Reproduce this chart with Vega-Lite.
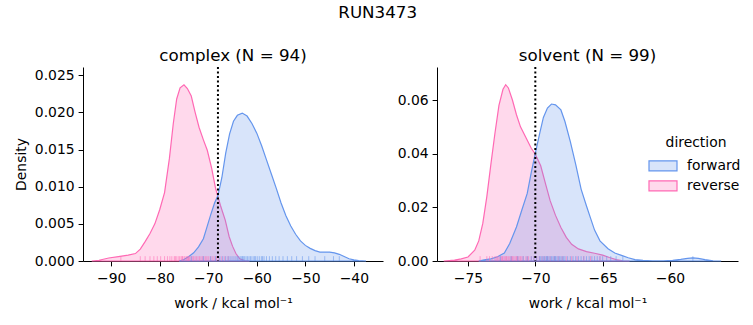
{
  "$schema": "https://vega.github.io/schema/vega-lite/v6.json",
  "padding": {"left": 14, "top": 4, "right": 5, "bottom": 5},
  "title": {"text": "RUN3473", "anchor": "middle", "offset": 27},
  "datasets": {
    "curves": [
      {"panel": "complex", "direction": "reverse", "work": -94.0, "density": 0},
      {"panel": "complex", "direction": "reverse", "work": -92.5, "density": 0.0001},
      {"panel": "complex", "direction": "reverse", "work": -90.5, "density": 0.0004},
      {"panel": "complex", "direction": "reverse", "work": -88.5, "density": 0.0006},
      {"panel": "complex", "direction": "reverse", "work": -86.5, "density": 0.0008},
      {"panel": "complex", "direction": "reverse", "work": -85.0, "density": 0.0010},
      {"panel": "complex", "direction": "reverse", "work": -84.0, "density": 0.0016},
      {"panel": "complex", "direction": "reverse", "work": -83.0, "density": 0.0026},
      {"panel": "complex", "direction": "reverse", "work": -82.0, "density": 0.0037},
      {"panel": "complex", "direction": "reverse", "work": -81.0, "density": 0.0050},
      {"panel": "complex", "direction": "reverse", "work": -80.0, "density": 0.0069},
      {"panel": "complex", "direction": "reverse", "work": -79.0, "density": 0.0092},
      {"panel": "complex", "direction": "reverse", "work": -78.0, "density": 0.0138},
      {"panel": "complex", "direction": "reverse", "work": -77.2, "density": 0.0185},
      {"panel": "complex", "direction": "reverse", "work": -76.5, "density": 0.0218},
      {"panel": "complex", "direction": "reverse", "work": -75.8, "density": 0.0233},
      {"panel": "complex", "direction": "reverse", "work": -75.0, "density": 0.0237},
      {"panel": "complex", "direction": "reverse", "work": -74.3, "density": 0.0232},
      {"panel": "complex", "direction": "reverse", "work": -73.5, "density": 0.0222},
      {"panel": "complex", "direction": "reverse", "work": -72.7, "density": 0.0200},
      {"panel": "complex", "direction": "reverse", "work": -71.9, "density": 0.0180},
      {"panel": "complex", "direction": "reverse", "work": -71.0, "density": 0.0163},
      {"panel": "complex", "direction": "reverse", "work": -70.2, "density": 0.0149},
      {"panel": "complex", "direction": "reverse", "work": -69.3, "density": 0.0125},
      {"panel": "complex", "direction": "reverse", "work": -68.5, "density": 0.0098},
      {"panel": "complex", "direction": "reverse", "work": -67.5, "density": 0.0075},
      {"panel": "complex", "direction": "reverse", "work": -66.5, "density": 0.0055},
      {"panel": "complex", "direction": "reverse", "work": -65.7, "density": 0.0033},
      {"panel": "complex", "direction": "reverse", "work": -65.0, "density": 0.0020},
      {"panel": "complex", "direction": "reverse", "work": -64.3, "density": 0.0010},
      {"panel": "complex", "direction": "reverse", "work": -63.5, "density": 0.0003},
      {"panel": "complex", "direction": "reverse", "work": -62.5, "density": 0.00005},
      {"panel": "complex", "direction": "reverse", "work": -61.5, "density": 0},
      {"panel": "complex", "direction": "forward", "work": -76.0, "density": 0},
      {"panel": "complex", "direction": "forward", "work": -75.0, "density": 0.0002},
      {"panel": "complex", "direction": "forward", "work": -74.0, "density": 0.0006},
      {"panel": "complex", "direction": "forward", "work": -73.0, "density": 0.0011},
      {"panel": "complex", "direction": "forward", "work": -72.0, "density": 0.0019},
      {"panel": "complex", "direction": "forward", "work": -71.0, "density": 0.0030},
      {"panel": "complex", "direction": "forward", "work": -70.3, "density": 0.0045},
      {"panel": "complex", "direction": "forward", "work": -69.5, "density": 0.0062},
      {"panel": "complex", "direction": "forward", "work": -68.7, "density": 0.0078},
      {"panel": "complex", "direction": "forward", "work": -68.0, "density": 0.0088},
      {"panel": "complex", "direction": "forward", "work": -67.2, "density": 0.0112},
      {"panel": "complex", "direction": "forward", "work": -66.4, "density": 0.0145},
      {"panel": "complex", "direction": "forward", "work": -65.6, "density": 0.0171},
      {"panel": "complex", "direction": "forward", "work": -64.8, "density": 0.0188},
      {"panel": "complex", "direction": "forward", "work": -64.0, "density": 0.0196},
      {"panel": "complex", "direction": "forward", "work": -63.0, "density": 0.0199},
      {"panel": "complex", "direction": "forward", "work": -62.0, "density": 0.0195},
      {"panel": "complex", "direction": "forward", "work": -61.0, "density": 0.0185},
      {"panel": "complex", "direction": "forward", "work": -60.0, "density": 0.0172},
      {"panel": "complex", "direction": "forward", "work": -59.0, "density": 0.0155},
      {"panel": "complex", "direction": "forward", "work": -58.0, "density": 0.0136},
      {"panel": "complex", "direction": "forward", "work": -57.0, "density": 0.0117},
      {"panel": "complex", "direction": "forward", "work": -56.0, "density": 0.0098},
      {"panel": "complex", "direction": "forward", "work": -55.0, "density": 0.0078},
      {"panel": "complex", "direction": "forward", "work": -54.0, "density": 0.0061},
      {"panel": "complex", "direction": "forward", "work": -53.0, "density": 0.0047},
      {"panel": "complex", "direction": "forward", "work": -52.0, "density": 0.0036},
      {"panel": "complex", "direction": "forward", "work": -51.0, "density": 0.0027},
      {"panel": "complex", "direction": "forward", "work": -50.0, "density": 0.0021},
      {"panel": "complex", "direction": "forward", "work": -49.0, "density": 0.0017},
      {"panel": "complex", "direction": "forward", "work": -48.0, "density": 0.0014},
      {"panel": "complex", "direction": "forward", "work": -47.0, "density": 0.0012},
      {"panel": "complex", "direction": "forward", "work": -46.0, "density": 0.0012},
      {"panel": "complex", "direction": "forward", "work": -45.0, "density": 0.0012},
      {"panel": "complex", "direction": "forward", "work": -44.0, "density": 0.0011},
      {"panel": "complex", "direction": "forward", "work": -43.0, "density": 0.0009},
      {"panel": "complex", "direction": "forward", "work": -42.0, "density": 0.0006},
      {"panel": "complex", "direction": "forward", "work": -41.0, "density": 0.0003},
      {"panel": "complex", "direction": "forward", "work": -40.0, "density": 0.00015},
      {"panel": "complex", "direction": "forward", "work": -39.0, "density": 0.00005},
      {"panel": "complex", "direction": "forward", "work": -37.5, "density": 0},
      {"panel": "solvent", "direction": "reverse", "work": -76.8, "density": 0},
      {"panel": "solvent", "direction": "reverse", "work": -76.0, "density": 0.0003},
      {"panel": "solvent", "direction": "reverse", "work": -75.5, "density": 0.0008},
      {"panel": "solvent", "direction": "reverse", "work": -75.0, "density": 0.0015},
      {"panel": "solvent", "direction": "reverse", "work": -74.5, "density": 0.0040},
      {"panel": "solvent", "direction": "reverse", "work": -74.2, "density": 0.0075},
      {"panel": "solvent", "direction": "reverse", "work": -73.9, "density": 0.0140},
      {"panel": "solvent", "direction": "reverse", "work": -73.6, "density": 0.0240},
      {"panel": "solvent", "direction": "reverse", "work": -73.3, "density": 0.0360},
      {"panel": "solvent", "direction": "reverse", "work": -73.0, "density": 0.0475},
      {"panel": "solvent", "direction": "reverse", "work": -72.7, "density": 0.0580},
      {"panel": "solvent", "direction": "reverse", "work": -72.4, "density": 0.0640},
      {"panel": "solvent", "direction": "reverse", "work": -72.2, "density": 0.0657},
      {"panel": "solvent", "direction": "reverse", "work": -72.0, "density": 0.0645},
      {"panel": "solvent", "direction": "reverse", "work": -71.7, "density": 0.0600},
      {"panel": "solvent", "direction": "reverse", "work": -71.4, "density": 0.0545},
      {"panel": "solvent", "direction": "reverse", "work": -71.1, "density": 0.0500},
      {"panel": "solvent", "direction": "reverse", "work": -70.7, "density": 0.0460},
      {"panel": "solvent", "direction": "reverse", "work": -70.3, "density": 0.0420},
      {"panel": "solvent", "direction": "reverse", "work": -70.0, "density": 0.0398},
      {"panel": "solvent", "direction": "reverse", "work": -69.6, "density": 0.0355},
      {"panel": "solvent", "direction": "reverse", "work": -69.2, "density": 0.0280},
      {"panel": "solvent", "direction": "reverse", "work": -68.9, "density": 0.0225},
      {"panel": "solvent", "direction": "reverse", "work": -68.5, "density": 0.0170},
      {"panel": "solvent", "direction": "reverse", "work": -68.1, "density": 0.0125},
      {"panel": "solvent", "direction": "reverse", "work": -67.7, "density": 0.0088},
      {"panel": "solvent", "direction": "reverse", "work": -67.3, "density": 0.0062},
      {"panel": "solvent", "direction": "reverse", "work": -66.8, "density": 0.0045},
      {"panel": "solvent", "direction": "reverse", "work": -66.2, "density": 0.0035},
      {"panel": "solvent", "direction": "reverse", "work": -65.6, "density": 0.0029},
      {"panel": "solvent", "direction": "reverse", "work": -65.0, "density": 0.0022},
      {"panel": "solvent", "direction": "reverse", "work": -64.5, "density": 0.0013},
      {"panel": "solvent", "direction": "reverse", "work": -64.0, "density": 0.0005},
      {"panel": "solvent", "direction": "reverse", "work": -63.5, "density": 0.0001},
      {"panel": "solvent", "direction": "reverse", "work": -63.0, "density": 0},
      {"panel": "solvent", "direction": "forward", "work": -74.2, "density": 0},
      {"panel": "solvent", "direction": "forward", "work": -73.8, "density": 0.0004},
      {"panel": "solvent", "direction": "forward", "work": -73.3, "density": 0.0008},
      {"panel": "solvent", "direction": "forward", "work": -72.8, "density": 0.0016},
      {"panel": "solvent", "direction": "forward", "work": -72.3, "density": 0.0030},
      {"panel": "solvent", "direction": "forward", "work": -71.9, "density": 0.0065},
      {"panel": "solvent", "direction": "forward", "work": -71.4, "density": 0.0127},
      {"panel": "solvent", "direction": "forward", "work": -71.0, "density": 0.0190},
      {"panel": "solvent", "direction": "forward", "work": -70.6, "density": 0.0252},
      {"panel": "solvent", "direction": "forward", "work": -70.3, "density": 0.0330},
      {"panel": "solvent", "direction": "forward", "work": -70.0, "density": 0.0401},
      {"panel": "solvent", "direction": "forward", "work": -69.7, "density": 0.0470},
      {"panel": "solvent", "direction": "forward", "work": -69.4, "density": 0.0535},
      {"panel": "solvent", "direction": "forward", "work": -69.1, "density": 0.0570},
      {"panel": "solvent", "direction": "forward", "work": -68.8, "density": 0.0585},
      {"panel": "solvent", "direction": "forward", "work": -68.5, "density": 0.0582},
      {"panel": "solvent", "direction": "forward", "work": -68.1, "density": 0.0563},
      {"panel": "solvent", "direction": "forward", "work": -67.8, "density": 0.0520},
      {"panel": "solvent", "direction": "forward", "work": -67.4, "density": 0.0445},
      {"panel": "solvent", "direction": "forward", "work": -67.0, "density": 0.0360},
      {"panel": "solvent", "direction": "forward", "work": -66.6, "density": 0.0268},
      {"panel": "solvent", "direction": "forward", "work": -66.2, "density": 0.0205},
      {"panel": "solvent", "direction": "forward", "work": -65.9, "density": 0.0160},
      {"panel": "solvent", "direction": "forward", "work": -65.6, "density": 0.0115},
      {"panel": "solvent", "direction": "forward", "work": -65.2, "density": 0.0075},
      {"panel": "solvent", "direction": "forward", "work": -64.6, "density": 0.0046},
      {"panel": "solvent", "direction": "forward", "work": -64.1, "density": 0.0030},
      {"panel": "solvent", "direction": "forward", "work": -63.6, "density": 0.0021},
      {"panel": "solvent", "direction": "forward", "work": -63.1, "density": 0.0012},
      {"panel": "solvent", "direction": "forward", "work": -62.6, "density": 0.0005},
      {"panel": "solvent", "direction": "forward", "work": -62.0, "density": 0.0002},
      {"panel": "solvent", "direction": "forward", "work": -61.3, "density": 0.00005},
      {"panel": "solvent", "direction": "forward", "work": -60.5, "density": 0.00002},
      {"panel": "solvent", "direction": "forward", "work": -59.8, "density": 0.0002},
      {"panel": "solvent", "direction": "forward", "work": -59.2, "density": 0.0006},
      {"panel": "solvent", "direction": "forward", "work": -58.7, "density": 0.0010},
      {"panel": "solvent", "direction": "forward", "work": -58.3, "density": 0.0012},
      {"panel": "solvent", "direction": "forward", "work": -57.9, "density": 0.0010},
      {"panel": "solvent", "direction": "forward", "work": -57.4, "density": 0.0005},
      {"panel": "solvent", "direction": "forward", "work": -56.8, "density": 0.0001},
      {"panel": "solvent", "direction": "forward", "work": -56.2, "density": 0}
    ],
    "rug": [
      {"panel": "complex", "direction": "reverse", "work": -88.0},
      {"panel": "complex", "direction": "reverse", "work": -84.0},
      {"panel": "complex", "direction": "reverse", "work": -83.0},
      {"panel": "complex", "direction": "reverse", "work": -82.0},
      {"panel": "complex", "direction": "reverse", "work": -81.2},
      {"panel": "complex", "direction": "reverse", "work": -80.5},
      {"panel": "complex", "direction": "reverse", "work": -79.8},
      {"panel": "complex", "direction": "reverse", "work": -79.0},
      {"panel": "complex", "direction": "reverse", "work": -78.4},
      {"panel": "complex", "direction": "reverse", "work": -77.9},
      {"panel": "complex", "direction": "reverse", "work": -77.5},
      {"panel": "complex", "direction": "reverse", "work": -77.0},
      {"panel": "complex", "direction": "reverse", "work": -76.8},
      {"panel": "complex", "direction": "reverse", "work": -76.6},
      {"panel": "complex", "direction": "reverse", "work": -76.2},
      {"panel": "complex", "direction": "reverse", "work": -75.9},
      {"panel": "complex", "direction": "reverse", "work": -75.6},
      {"panel": "complex", "direction": "reverse", "work": -75.4},
      {"panel": "complex", "direction": "reverse", "work": -75.3},
      {"panel": "complex", "direction": "reverse", "work": -75.0},
      {"panel": "complex", "direction": "reverse", "work": -74.8},
      {"panel": "complex", "direction": "reverse", "work": -74.5},
      {"panel": "complex", "direction": "reverse", "work": -74.3},
      {"panel": "complex", "direction": "reverse", "work": -74.1},
      {"panel": "complex", "direction": "reverse", "work": -74.0},
      {"panel": "complex", "direction": "reverse", "work": -73.8},
      {"panel": "complex", "direction": "reverse", "work": -73.5},
      {"panel": "complex", "direction": "reverse", "work": -73.2},
      {"panel": "complex", "direction": "reverse", "work": -73.0},
      {"panel": "complex", "direction": "reverse", "work": -72.7},
      {"panel": "complex", "direction": "reverse", "work": -72.4},
      {"panel": "complex", "direction": "reverse", "work": -72.1},
      {"panel": "complex", "direction": "reverse", "work": -71.8},
      {"panel": "complex", "direction": "reverse", "work": -71.5},
      {"panel": "complex", "direction": "reverse", "work": -71.2},
      {"panel": "complex", "direction": "reverse", "work": -70.9},
      {"panel": "complex", "direction": "reverse", "work": -70.6},
      {"panel": "complex", "direction": "reverse", "work": -70.3},
      {"panel": "complex", "direction": "reverse", "work": -70.0},
      {"panel": "complex", "direction": "reverse", "work": -69.6},
      {"panel": "complex", "direction": "reverse", "work": -69.2},
      {"panel": "complex", "direction": "reverse", "work": -68.8},
      {"panel": "complex", "direction": "reverse", "work": -68.3},
      {"panel": "complex", "direction": "reverse", "work": -67.8},
      {"panel": "complex", "direction": "reverse", "work": -67.2},
      {"panel": "complex", "direction": "reverse", "work": -66.6},
      {"panel": "complex", "direction": "reverse", "work": -65.9},
      {"panel": "complex", "direction": "forward", "work": -73.5},
      {"panel": "complex", "direction": "forward", "work": -71.0},
      {"panel": "complex", "direction": "forward", "work": -69.5},
      {"panel": "complex", "direction": "forward", "work": -68.5},
      {"panel": "complex", "direction": "forward", "work": -67.6},
      {"panel": "complex", "direction": "forward", "work": -67.0},
      {"panel": "complex", "direction": "forward", "work": -66.4},
      {"panel": "complex", "direction": "forward", "work": -65.9},
      {"panel": "complex", "direction": "forward", "work": -65.5},
      {"panel": "complex", "direction": "forward", "work": -65.1},
      {"panel": "complex", "direction": "forward", "work": -64.7},
      {"panel": "complex", "direction": "forward", "work": -64.3},
      {"panel": "complex", "direction": "forward", "work": -64.0},
      {"panel": "complex", "direction": "forward", "work": -63.7},
      {"panel": "complex", "direction": "forward", "work": -63.4},
      {"panel": "complex", "direction": "forward", "work": -63.1},
      {"panel": "complex", "direction": "forward", "work": -62.9},
      {"panel": "complex", "direction": "forward", "work": -62.8},
      {"panel": "complex", "direction": "forward", "work": -62.5},
      {"panel": "complex", "direction": "forward", "work": -62.2},
      {"panel": "complex", "direction": "forward", "work": -61.9},
      {"panel": "complex", "direction": "forward", "work": -61.6},
      {"panel": "complex", "direction": "forward", "work": -61.3},
      {"panel": "complex", "direction": "forward", "work": -61.0},
      {"panel": "complex", "direction": "forward", "work": -60.6},
      {"panel": "complex", "direction": "forward", "work": -60.4},
      {"panel": "complex", "direction": "forward", "work": -60.2},
      {"panel": "complex", "direction": "forward", "work": -59.8},
      {"panel": "complex", "direction": "forward", "work": -59.4},
      {"panel": "complex", "direction": "forward", "work": -59.0},
      {"panel": "complex", "direction": "forward", "work": -58.8},
      {"panel": "complex", "direction": "forward", "work": -58.5},
      {"panel": "complex", "direction": "forward", "work": -58.0},
      {"panel": "complex", "direction": "forward", "work": -57.4},
      {"panel": "complex", "direction": "forward", "work": -56.8},
      {"panel": "complex", "direction": "forward", "work": -56.1},
      {"panel": "complex", "direction": "forward", "work": -55.4},
      {"panel": "complex", "direction": "forward", "work": -54.6},
      {"panel": "complex", "direction": "forward", "work": -53.7},
      {"panel": "complex", "direction": "forward", "work": -52.8},
      {"panel": "complex", "direction": "forward", "work": -51.8},
      {"panel": "complex", "direction": "forward", "work": -50.6},
      {"panel": "complex", "direction": "forward", "work": -49.3},
      {"panel": "complex", "direction": "forward", "work": -48.0},
      {"panel": "complex", "direction": "forward", "work": -46.0},
      {"panel": "complex", "direction": "forward", "work": -44.2},
      {"panel": "complex", "direction": "forward", "work": -43.0},
      {"panel": "solvent", "direction": "reverse", "work": -74.1},
      {"panel": "solvent", "direction": "reverse", "work": -73.6},
      {"panel": "solvent", "direction": "reverse", "work": -73.4},
      {"panel": "solvent", "direction": "reverse", "work": -73.2},
      {"panel": "solvent", "direction": "reverse", "work": -73.0},
      {"panel": "solvent", "direction": "reverse", "work": -72.9},
      {"panel": "solvent", "direction": "reverse", "work": -72.8},
      {"panel": "solvent", "direction": "reverse", "work": -72.7},
      {"panel": "solvent", "direction": "reverse", "work": -72.6},
      {"panel": "solvent", "direction": "reverse", "work": -72.5},
      {"panel": "solvent", "direction": "reverse", "work": -72.45},
      {"panel": "solvent", "direction": "reverse", "work": -72.4},
      {"panel": "solvent", "direction": "reverse", "work": -72.3},
      {"panel": "solvent", "direction": "reverse", "work": -72.2},
      {"panel": "solvent", "direction": "reverse", "work": -72.15},
      {"panel": "solvent", "direction": "reverse", "work": -72.1},
      {"panel": "solvent", "direction": "reverse", "work": -72.0},
      {"panel": "solvent", "direction": "reverse", "work": -71.9},
      {"panel": "solvent", "direction": "reverse", "work": -71.8},
      {"panel": "solvent", "direction": "reverse", "work": -71.75},
      {"panel": "solvent", "direction": "reverse", "work": -71.7},
      {"panel": "solvent", "direction": "reverse", "work": -71.6},
      {"panel": "solvent", "direction": "reverse", "work": -71.5},
      {"panel": "solvent", "direction": "reverse", "work": -71.4},
      {"panel": "solvent", "direction": "reverse", "work": -71.35},
      {"panel": "solvent", "direction": "reverse", "work": -71.3},
      {"panel": "solvent", "direction": "reverse", "work": -71.2},
      {"panel": "solvent", "direction": "reverse", "work": -71.1},
      {"panel": "solvent", "direction": "reverse", "work": -71.0},
      {"panel": "solvent", "direction": "reverse", "work": -70.9},
      {"panel": "solvent", "direction": "reverse", "work": -70.7},
      {"panel": "solvent", "direction": "reverse", "work": -70.6},
      {"panel": "solvent", "direction": "reverse", "work": -70.5},
      {"panel": "solvent", "direction": "reverse", "work": -70.3},
      {"panel": "solvent", "direction": "reverse", "work": -70.1},
      {"panel": "solvent", "direction": "reverse", "work": -69.9},
      {"panel": "solvent", "direction": "reverse", "work": -69.7},
      {"panel": "solvent", "direction": "reverse", "work": -69.5},
      {"panel": "solvent", "direction": "reverse", "work": -69.3},
      {"panel": "solvent", "direction": "reverse", "work": -69.1},
      {"panel": "solvent", "direction": "reverse", "work": -68.9},
      {"panel": "solvent", "direction": "reverse", "work": -68.6},
      {"panel": "solvent", "direction": "reverse", "work": -68.3},
      {"panel": "solvent", "direction": "reverse", "work": -68.0},
      {"panel": "solvent", "direction": "reverse", "work": -67.7},
      {"panel": "solvent", "direction": "reverse", "work": -67.3},
      {"panel": "solvent", "direction": "reverse", "work": -66.9},
      {"panel": "solvent", "direction": "reverse", "work": -66.4},
      {"panel": "solvent", "direction": "reverse", "work": -65.9},
      {"panel": "solvent", "direction": "reverse", "work": -65.2},
      {"panel": "solvent", "direction": "forward", "work": -72.6},
      {"panel": "solvent", "direction": "forward", "work": -71.8},
      {"panel": "solvent", "direction": "forward", "work": -71.3},
      {"panel": "solvent", "direction": "forward", "work": -70.9},
      {"panel": "solvent", "direction": "forward", "work": -70.6},
      {"panel": "solvent", "direction": "forward", "work": -70.3},
      {"panel": "solvent", "direction": "forward", "work": -70.1},
      {"panel": "solvent", "direction": "forward", "work": -69.9},
      {"panel": "solvent", "direction": "forward", "work": -69.7},
      {"panel": "solvent", "direction": "forward", "work": -69.6},
      {"panel": "solvent", "direction": "forward", "work": -69.5},
      {"panel": "solvent", "direction": "forward", "work": -69.4},
      {"panel": "solvent", "direction": "forward", "work": -69.3},
      {"panel": "solvent", "direction": "forward", "work": -69.2},
      {"panel": "solvent", "direction": "forward", "work": -69.15},
      {"panel": "solvent", "direction": "forward", "work": -69.1},
      {"panel": "solvent", "direction": "forward", "work": -69.0},
      {"panel": "solvent", "direction": "forward", "work": -68.9},
      {"panel": "solvent", "direction": "forward", "work": -68.8},
      {"panel": "solvent", "direction": "forward", "work": -68.7},
      {"panel": "solvent", "direction": "forward", "work": -68.6},
      {"panel": "solvent", "direction": "forward", "work": -68.55},
      {"panel": "solvent", "direction": "forward", "work": -68.5},
      {"panel": "solvent", "direction": "forward", "work": -68.4},
      {"panel": "solvent", "direction": "forward", "work": -68.3},
      {"panel": "solvent", "direction": "forward", "work": -68.2},
      {"panel": "solvent", "direction": "forward", "work": -68.1},
      {"panel": "solvent", "direction": "forward", "work": -68.0},
      {"panel": "solvent", "direction": "forward", "work": -67.9},
      {"panel": "solvent", "direction": "forward", "work": -67.8},
      {"panel": "solvent", "direction": "forward", "work": -67.6},
      {"panel": "solvent", "direction": "forward", "work": -67.4},
      {"panel": "solvent", "direction": "forward", "work": -67.2},
      {"panel": "solvent", "direction": "forward", "work": -67.0},
      {"panel": "solvent", "direction": "forward", "work": -66.8},
      {"panel": "solvent", "direction": "forward", "work": -66.6},
      {"panel": "solvent", "direction": "forward", "work": -66.4},
      {"panel": "solvent", "direction": "forward", "work": -66.2},
      {"panel": "solvent", "direction": "forward", "work": -66.0},
      {"panel": "solvent", "direction": "forward", "work": -65.8},
      {"panel": "solvent", "direction": "forward", "work": -65.6},
      {"panel": "solvent", "direction": "forward", "work": -65.4},
      {"panel": "solvent", "direction": "forward", "work": -65.2},
      {"panel": "solvent", "direction": "forward", "work": -65.0},
      {"panel": "solvent", "direction": "forward", "work": -64.7},
      {"panel": "solvent", "direction": "forward", "work": -64.4},
      {"panel": "solvent", "direction": "forward", "work": -64.0},
      {"panel": "solvent", "direction": "forward", "work": -63.5},
      {"panel": "solvent", "direction": "forward", "work": -58.3}
    ],
    "ref": [
      {"panel": "complex", "work": -68.0},
      {"panel": "solvent", "work": -70.0}
    ]
  },
  "hconcat": [
    {
      "width": 300,
      "height": 194,
      "title": {"text": "complex (N = 94)"},
      "encoding": {
        "x": {"field": "work", "type": "quantitative",
              "scale": {"domain": [-95.8, -34], "nice": false, "zero": false},
              "axis": {"title": "work / kcal mol⁻¹", "values": [-90, -80, -70, -60, -50, -40],
                       "labelExpr": "replace(format(datum.value, 'd'), '-', '−')"}}
      },
      "layer": [
        {
          "data": {"name": "curves"},
          "transform": [{"filter": "datum.panel == 'complex'"}],
          "mark": {"type": "area", "fillOpacity": 0.25, "strokeOpacity": 1, "strokeWidth": 1.2},
          "encoding": {
            "y": {"field": "density", "type": "quantitative", "stack": null,
                  "scale": {"domain": [0, 0.0261], "nice": false},
                  "axis": {"title": "Density", "values": [0, 0.005, 0.01, 0.015, 0.02, 0.025], "format": ".3f"}},
            "fill": {"field": "direction", "type": "nominal",
                     "scale": {"domain": ["forward", "reverse"], "range": ["#6495ED", "#FF69B4"]}, "legend": null},
            "stroke": {"field": "direction", "type": "nominal",
                       "scale": {"domain": ["forward", "reverse"], "range": ["#6495ED", "#FF69B4"]}, "legend": null}
          }
        },
        {
          "data": {"name": "rug"},
          "transform": [{"filter": "datum.panel == 'complex'"}],
          "mark": {"type": "rule", "strokeWidth": 1, "opacity": 0.55},
          "encoding": {
            "y": {"datum": 0, "type": "quantitative",
                  "axis": {"title": "Density", "values": [0, 0.005, 0.01, 0.015, 0.02, 0.025], "format": ".3f"}},
            "y2": {"datum": 0.00065},
            "stroke": {"field": "direction", "type": "nominal", "legend": null}
          }
        },
        {
          "data": {"name": "ref"},
          "transform": [{"filter": "datum.panel == 'complex'"}],
          "mark": {"type": "rule", "color": "black", "strokeWidth": 2, "strokeDash": [2, 2.5]},
          "encoding": {}
        }
      ]
    },
    {
      "width": 301,
      "height": 194,
      "title": {"text": "solvent (N = 99)"},
      "encoding": {
        "x": {"field": "work", "type": "quantitative",
              "scale": {"domain": [-77.3, -54.95], "nice": false, "zero": false},
              "axis": {"title": "work / kcal mol⁻¹", "values": [-75, -70, -65, -60],
                       "labelExpr": "replace(format(datum.value, 'd'), '-', '−')"}}
      },
      "layer": [
        {
          "data": {"name": "curves"},
          "transform": [{"filter": "datum.panel == 'solvent'"}],
          "mark": {"type": "area", "fillOpacity": 0.25, "strokeOpacity": 1, "strokeWidth": 1.2},
          "encoding": {
            "y": {"field": "density", "type": "quantitative", "stack": null,
                  "scale": {"domain": [0, 0.0723], "nice": false},
                  "axis": {"title": null, "values": [0, 0.02, 0.04, 0.06], "format": ".2f"}},
            "fill": {"field": "direction", "type": "nominal",
                     "scale": {"domain": ["forward", "reverse"], "range": ["#6495ED", "#FF69B4"]},
                     "legend": {"title": "direction", "orient": "none", "legendX": 215, "legendY": 69,
                                "symbolType": "M-1.4,-0.5H1.4V0.5H-1.4Z", "symbolSize": 400,
                                "symbolStrokeWidth": 1.2,
                                "encode": {"symbols": {"update": {"fillOpacity": {"value": 0.25}}}}}},
            "stroke": {"field": "direction", "type": "nominal",
                       "scale": {"domain": ["forward", "reverse"], "range": ["#6495ED", "#FF69B4"]},
                       "legend": {"title": "direction", "orient": "none", "legendX": 215, "legendY": 69,
                                "symbolType": "M-1.4,-0.5H1.4V0.5H-1.4Z", "symbolSize": 400,
                                "symbolStrokeWidth": 1.2,
                                "encode": {"symbols": {"update": {"fillOpacity": {"value": 0.25}}}}}}
          }
        },
        {
          "data": {"name": "rug"},
          "transform": [{"filter": "datum.panel == 'solvent'"}],
          "mark": {"type": "rule", "strokeWidth": 1, "opacity": 0.55},
          "encoding": {
            "y": {"datum": 0, "type": "quantitative",
                  "axis": {"title": null, "values": [0, 0.02, 0.04, 0.06], "format": ".2f"}},
            "y2": {"datum": 0.0018},
            "stroke": {"field": "direction", "type": "nominal"}
          }
        },
        {
          "data": {"name": "ref"},
          "transform": [{"filter": "datum.panel == 'solvent'"}],
          "mark": {"type": "rule", "color": "black", "strokeWidth": 2, "strokeDash": [2, 2.5]},
          "encoding": {}
        }
      ]
    }
  ],
  "spacing": 14,
  "resolve": {
    "scale": {"x": "independent", "y": "independent", "fill": "independent", "stroke": "independent"},
    "legend": {"fill": "independent", "stroke": "independent"}
  },
  "config": {
    "font": "DejaVu Sans",
    "view": {"stroke": null},
    "title": {"font": "DejaVu Sans", "fontSize": 16.7, "fontWeight": "normal", "color": "black", "offset": 1},
    "axis": {
      "grid": false,
      "domainColor": "black",
      "domainWidth": 1,
      "tickColor": "black",
      "tickWidth": 1,
      "tickSize": 4.9,
      "labelPadding": 6,
      "labelOverlap": false,
      "labelColor": "black",
      "labelFont": "DejaVu Sans",
      "labelFontSize": 13.9,
      "titleColor": "black",
      "titleFont": "DejaVu Sans",
      "titleFontSize": 13.9,
      "titleFontWeight": "normal",
      "zindex": 1
    },
    "axisY": {"titlePadding": 6, "labelPadding": 4},
    "axisX": {"titlePadding": 11},
    "legend": {
      "labelFont": "DejaVu Sans",
      "labelFontSize": 13.9,
      "labelColor": "black",
      "titleFont": "DejaVu Sans",
      "titleFontSize": 13.9,
      "titleFontWeight": "normal",
      "titleColor": "black",
      "titleAnchor": "middle",
      "rowPadding": 1,
      "labelOffset": 13
    }
  }
}
